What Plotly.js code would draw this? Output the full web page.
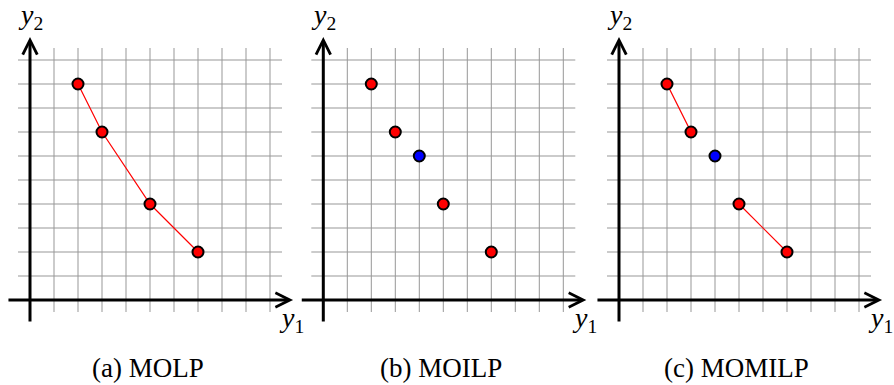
<!DOCTYPE html>
<html>
<head>
<meta charset="utf-8">
<script src="https://cdn.plot.ly/plotly-3.0.1.min.js"></script>
<style>
  html, body { margin: 0; padding: 0; background: #fff; }
  #chart { width: 894px; height: 385px; }
  #fontwarm { position: absolute; left: -9999px; top: 0; font-family: "Liberation Serif"; font-size: 27px; }
</style>
</head>
<body>
<div id="fontwarm">(a) MOLP <i>y</i><sub>1</sub></div>
<div id="chart"></div>
<script>
// Outcome vectors (y1, y2) in objective space
const y1Red = [2, 3, 5, 7];
const y2Red = [9, 7, 4, 2];
const y1Blue = [4];
const y2Blue = [6];

// Index pairs of red points joined by a frontier segment in the mixed-integer case
const mixedSegments = [[0, 1], [2, 3]];

// Grid lines and the extent of the grid / axes (in objective units)
const gridTicks = [1, 2, 3, 4, 5, 6, 7, 8, 9, 10];
const gridLo = -0.5, gridHi = 10.5;
const axisLo = -0.96, axisHi = 10.96;

const captions = ['(a) MOLP', '(b) MOILP', '(c) MOMILP'];

// Panel placement: pixel position of each panel's origin
const W = 894, H = 385, unit = 24;
const originX = [30, 323.3, 619];
const originY = 300;
const xr = [-1.25, 11.25];
const yr = [(originY - H) / unit, originY / unit];

const FAM = 'Liberation Serif';
const red = '#ff0000', blue = '#0000ff';

const axNames = ['x', 'x2', 'x3'];
const traces = [];
const annotations = [];

const markerStyle = (c) => ({ size: 11, color: c, line: { color: '#000', width: 2 } });

// grid as one broken polyline: verticals then horizontals
const gridX = [], gridY = [];
gridTicks.forEach(t => { gridX.push(t, t, null); gridY.push(gridLo, gridHi, null); });
gridTicks.forEach(t => { gridX.push(gridLo, gridHi, null); gridY.push(t, t, null); });

axNames.forEach((xa, p) => {
  traces.push({ x: gridX, y: gridY, xaxis: xa, yaxis: 'y', mode: 'lines',
    line: { color: '#979797', width: 1 }, connectgaps: false, hoverinfo: 'skip' });

  // axes with arrow heads
  annotations.push({ xref: xa, yref: 'y', axref: xa, ayref: 'y',
    x: axisHi, y: 0, ax: axisLo, ay: 0, text: '', showarrow: true,
    arrowhead: 5, arrowsize: 0.95, arrowwidth: 3, arrowcolor: '#000' });
  annotations.push({ xref: xa, yref: 'y', axref: xa, ayref: 'y',
    x: 0, y: axisHi, ax: 0, ay: axisLo, text: '', showarrow: true,
    arrowhead: 5, arrowsize: 0.95, arrowwidth: 3, arrowcolor: '#000' });

  // axis labels
  annotations.push({ xref: xa, yref: 'y', x: 0, y: 11.8, showarrow: false,
    text: '<i>y</i><sub>2</sub>', font: { family: FAM, size: 28, color: '#000' } });
  annotations.push({ xref: xa, yref: 'y', x: 10.9, y: -0.8, showarrow: false,
    text: '<i>y</i><sub>1</sub>', font: { family: FAM, size: 28, color: '#000' } });

  // caption
  annotations.push({ xref: xa, yref: 'y', x: 4.9, y: -2.85, showarrow: false,
    text: captions[p], font: { family: FAM, size: 27, color: '#000' } });
});

// (a) MOLP: piecewise-linear frontier through all points
traces.push({ x: y1Red, y: y2Red, xaxis: 'x', yaxis: 'y', mode: 'lines+markers',
  line: { color: red, width: 1.2 }, marker: markerStyle(red) });

// (b) MOILP: discrete points only
traces.push({ x: y1Red, y: y2Red, xaxis: 'x2', yaxis: 'y', mode: 'markers',
  marker: markerStyle(red) });
traces.push({ x: y1Blue, y: y2Blue, xaxis: 'x2', yaxis: 'y', mode: 'markers',
  marker: markerStyle(blue) });

// (c) MOMILP: disconnected frontier pieces plus an isolated point
const segX = [], segY = [];
mixedSegments.forEach(([a, b], i) => {
  if (i > 0) { segX.push(null); segY.push(null); }
  segX.push(y1Red[a], y1Red[b]);
  segY.push(y2Red[a], y2Red[b]);
});
traces.push({ x: segX, y: segY, xaxis: 'x3', yaxis: 'y', mode: 'lines',
  line: { color: red, width: 1.2 }, connectgaps: false });
traces.push({ x: y1Red, y: y2Red, xaxis: 'x3', yaxis: 'y', mode: 'markers',
  marker: markerStyle(red) });
traces.push({ x: y1Blue, y: y2Blue, xaxis: 'x3', yaxis: 'y', mode: 'markers',
  marker: markerStyle(blue) });

const hiddenAxis = (extra) => Object.assign({ range: xr, visible: false }, extra);

const layout = {
  width: W, height: H,
  margin: { l: 0, r: 0, t: 0, b: 0 },
  showlegend: false,
  font: { family: FAM },
  xaxis: hiddenAxis({ domain: [(originX[0] - 30) / W, (originX[0] + 270) / W], anchor: 'y' }),
  xaxis2: hiddenAxis({ domain: [(originX[1] - 30) / W, (originX[1] + 270) / W], anchor: 'y' }),
  xaxis3: hiddenAxis({ domain: [(originX[2] - 30) / W, (originX[2] + 270) / W], anchor: 'y' }),
  yaxis: { range: yr, domain: [0, 1], visible: false },
  annotations: annotations
};

// make sure the serif face is resolved before the labels are measured
const draw = () => Plotly.newPlot('chart', traces, layout, { displayModeBar: false, staticPlot: true });
if (document.fonts && document.fonts.load) {
  Promise.all([
    document.fonts.load('27px "' + FAM + '"'),
    document.fonts.load('italic 28px "' + FAM + '"')
  ]).then(draw, draw);
} else {
  draw();
}
</script>
</body>
</html>
